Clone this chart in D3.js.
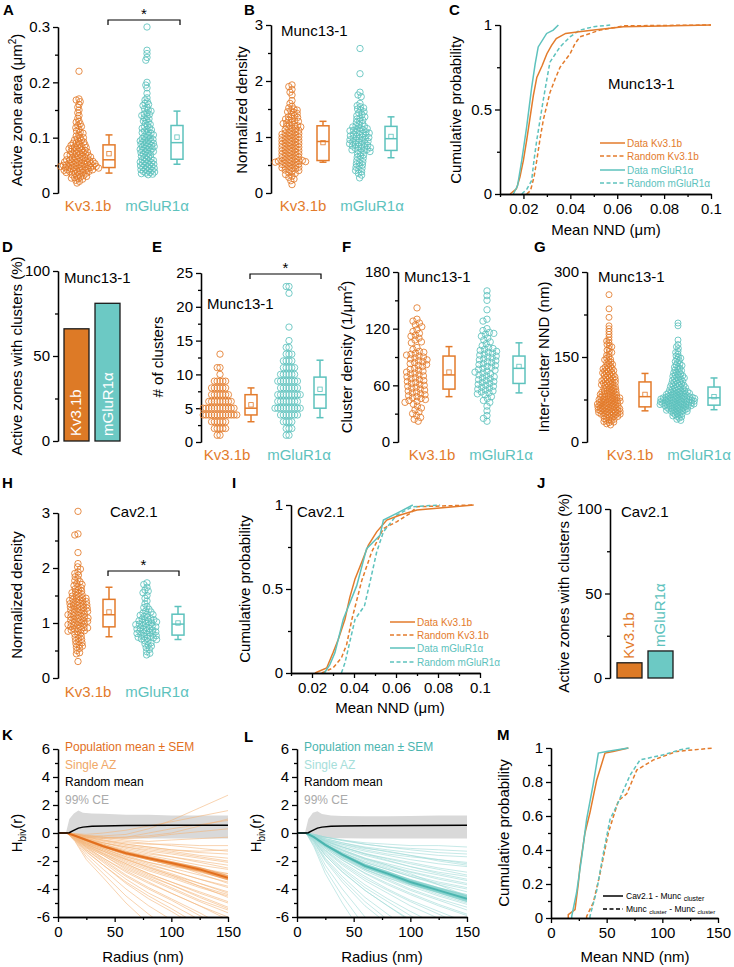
<!DOCTYPE html>
<html><head><meta charset="utf-8">
<script src="https://cdn.jsdelivr.net/npm/d3@7"></script>
<style>body{margin:0;background:#fff}svg{display:block}</style>
</head><body><script>
// ---------------- DATA ----------------
const groups = ["Kv3.1b", "mGluR1α"];
// A: active zone area (µm²)
const aKv = [0.22,0.17,0.168,0.165,0.16,0.155,0.15,0.145,0.14,0.135,0.13,0.128,0.125,0.122,0.12,0.118,0.115,0.112,0.11,0.108,0.105,0.103,0.1,0.1,0.098,0.096,0.095,0.093,0.092,0.09,0.09,0.088,0.087,0.086,0.085,0.084,0.083,0.082,0.081,0.08,0.08,0.079,0.078,0.077,0.076,0.075,0.075,0.074,0.073,0.072,0.071,0.07,0.07,0.069,0.068,0.068,0.067,0.066,0.065,0.065,0.064,0.063,0.063,0.062,0.061,0.06,0.06,0.06,0.059,0.058,0.058,0.057,0.057,0.056,0.056,0.055,0.055,0.054,0.054,0.053,0.053,0.052,0.052,0.051,0.051,0.05,0.05,0.05,0.049,0.049,0.048,0.048,0.048,0.047,0.047,0.046,0.046,0.046,0.045,0.045,0.044,0.044,0.043,0.043,0.042,0.042,0.041,0.041,0.04,0.04,0.039,0.039,0.038,0.037,0.037,0.036,0.035,0.034,0.033,0.032,0.031,0.03,0.029,0.028,0.027,0.026,0.025,0.023,0.021,0.018];
const aMg = [0.3,0.258,0.252,0.245,0.24,0.2,0.195,0.19,0.18,0.172,0.168,0.165,0.162,0.16,0.158,0.155,0.152,0.15,0.148,0.145,0.143,0.142,0.14,0.138,0.136,0.134,0.132,0.13,0.128,0.126,0.124,0.122,0.12,0.118,0.117,0.115,0.114,0.112,0.11,0.109,0.108,0.106,0.105,0.104,0.102,0.1,0.099,0.098,0.097,0.096,0.095,0.094,0.093,0.092,0.091,0.09,0.089,0.088,0.087,0.086,0.085,0.084,0.083,0.082,0.081,0.08,0.079,0.078,0.077,0.076,0.075,0.074,0.073,0.072,0.07,0.069,0.068,0.066,0.065,0.064,0.062,0.061,0.06,0.059,0.058,0.057,0.056,0.055,0.054,0.053,0.052,0.051,0.05,0.049,0.048,0.047,0.046,0.045,0.044,0.043,0.042,0.041,0.04,0.039,0.038,0.037,0.036,0.035,0.034,0.033];
const aBoxKv = [0.036,0.046,0.06,0.087,0.105,0.071];   // lo, q1, median, q3, hi, mean
const aBoxMg = [0.052,0.061,0.091,0.122,0.148,0.101];
// B: normalized density Munc13-1
const bKv = [1.93,1.9,1.85,1.8,1.75,1.65,1.6,1.55,1.52,1.5,1.48,1.47,1.45,1.44,1.42,1.4,1.38,1.36,1.35,1.33,1.32,1.3,1.29,1.28,1.26,1.25,1.24,1.22,1.21,1.2,1.19,1.18,1.16,1.15,1.14,1.13,1.12,1.1,1.09,1.08,1.07,1.06,1.05,1.04,1.03,1.02,1.01,1.0,0.99,0.98,0.97,0.96,0.95,0.94,0.93,0.92,0.91,0.9,0.89,0.88,0.87,0.86,0.85,0.84,0.83,0.82,0.81,0.8,0.79,0.78,0.77,0.76,0.75,0.74,0.73,0.72,0.71,0.7,0.69,0.68,0.67,0.66,0.65,0.64,0.63,0.62,0.61,0.6,0.59,0.58,0.58,0.57,0.57,0.56,0.56,0.55,0.55,0.54,0.53,0.52,0.51,0.5,0.49,0.48,0.47,0.46,0.45,0.44,0.43,0.42,0.41,0.4,0.38,0.36,0.35,0.33,0.3,0.28,0.25,0.22,0.15];
const bMg = [2.58,2.13,1.8,1.75,1.72,1.6,1.56,1.54,1.52,1.5,1.48,1.45,1.43,1.4,1.38,1.36,1.34,1.32,1.3,1.28,1.26,1.24,1.22,1.2,1.19,1.18,1.16,1.15,1.14,1.13,1.12,1.11,1.1,1.09,1.08,1.07,1.06,1.05,1.04,1.03,1.02,1.01,1.0,0.99,0.98,0.97,0.96,0.95,0.94,0.93,0.92,0.91,0.9,0.89,0.88,0.87,0.86,0.85,0.84,0.83,0.82,0.81,0.8,0.79,0.78,0.77,0.76,0.75,0.74,0.72,0.7,0.68,0.66,0.64,0.62,0.6,0.58,0.56,0.54,0.52,0.5,0.48,0.46,0.44,0.42,0.4,0.38,0.35,0.32,0.27];
const bBoxKv = [0.55,0.58,0.92,1.2,1.28,0.9];
const bBoxMg = [0.63,0.76,0.97,1.19,1.36,1.01];
// C: cumulative mean NND Munc13-1 [µm, prob]
const cDataKv = [[0.0143,0],[0.017,0.03],[0.0185,0.1],[0.020,0.2],[0.0214,0.32],[0.0228,0.45],[0.0242,0.58],[0.0257,0.69],[0.028,0.76],[0.030,0.83],[0.032,0.88],[0.034,0.92],[0.038,0.95],[0.0437,0.96],[0.05,0.97],[0.0627,0.99],[0.1,1]];
const cRandKv = [[0.0214,0],[0.023,0.02],[0.0245,0.1],[0.0257,0.2],[0.027,0.32],[0.0285,0.44],[0.0313,0.6],[0.0335,0.68],[0.0356,0.75],[0.0399,0.83],[0.042,0.89],[0.0441,0.93],[0.0527,0.97],[0.063,0.995],[0.1,1]];
const cDataMg = [[0.0157,0],[0.0175,0.05],[0.0193,0.2],[0.0214,0.4],[0.0225,0.52],[0.0235,0.63],[0.025,0.77],[0.0263,0.87],[0.0299,0.95],[0.0327,0.97],[0.0349,1]];
const cRandMg = [[0.0193,0],[0.0215,0.03],[0.0235,0.08],[0.0245,0.2],[0.0257,0.32],[0.0285,0.56],[0.030,0.68],[0.0313,0.78],[0.0356,0.87],[0.0399,0.93],[0.0441,0.97],[0.05,0.99],[0.057,1]];
// D, J: % active zones with clusters
const dPct = [66, 81];
const jPct = [9, 16];
// E: # of clusters
const eKv = [13,11,11,10,9,9,9,9,9,8,8,8,8,8,8,7,7,7,7,7,7,7,6,6,6,6,6,6,6,6,6,5,5,5,5,5,5,5,5,5,5,5,5,4,4,4,4,4,4,4,4,4,4,4,4,4,3,3,3,3,3,3,2,2,2,2,2,1,1];
const eMg = [23,23,22,17,15,14,14,13,13,13,12,12,12,12,11,11,11,11,11,10,10,10,10,10,10,9,9,9,9,9,9,9,9,8,8,8,8,8,8,8,7,7,7,7,7,7,7,7,7,6,6,6,6,6,6,6,6,5,5,5,5,5,5,5,5,5,5,4,4,4,4,4,4,4,3,3,3,3,2,2,2,1,1];
const eBoxKv = [3,4,5,7,8,5.5];
const eBoxMg = [3.6,5,7,9.6,12.1,7.8];
// F: cluster density (1/µm²)
const fKv = [142,130,128,126,124,122,119,117,115,113,112,110,108,106,105,100,98,96,95,94,93,92,91,90,89,88,87,86,85,84,83,82,81,80,78,77,76,75,74,73,72,71,70,69,68,67,66,65,64,63,62,61,60,59,58,57,56,55,54,53,52,51,50,49,48,47,46,45,44,43,42,40,38,36,34,32,30,28,26,24,22];
const fMg = [160,155,150,140,130,128,120,118,116,115,114,112,110,108,106,104,102,100,99,98,97,96,95,94,93,92,91,90,89,88,87,86,85,84,83,82,81,80,79,78,77,76,75,74,73,72,71,70,69,68,67,66,65,64,63,62,61,60,59,58,57,56,55,54,53,52,51,50,48,46,44,42,38,33,28,25,22];
const fBoxKv = [48,56,71,91,101,74];
const fBoxMg = [52,62,78,91,105,80];
// G: inter-cluster NND (nm)
const gKv = [260,235,220,205,200,195,190,185,180,178,175,172,170,168,165,162,160,158,155,153,150,148,146,145,143,141,140,138,137,135,134,132,131,130,129,128,127,126,125,124,123,122,121,120,119,118,117,116,115,114,113,112,111,110,110,109,108,107,106,105,105,104,103,102,101,100,100,99,98,97,96,95,95,94,93,92,91,90,90,89,88,88,87,86,85,85,84,84,83,82,82,81,80,80,79,79,78,78,77,76,76,75,75,74,74,73,73,72,72,71,71,70,70,69,69,68,68,67,67,66,66,65,65,64,64,63,63,62,62,61,61,60,60,59,59,58,58,57,57,56,56,55,55,54,54,53,53,52,52,51,51,50,50,49,49,48,48,47,46,45,45,44,43,42,41,40,39,38,37,36,35,34,32,30];
const gMg = [210,205,180,172,168,165,160,158,155,152,150,148,146,144,142,140,138,136,135,133,132,130,128,127,126,124,123,122,120,119,118,117,116,115,114,113,112,111,110,109,108,107,106,105,104,103,102,101,100,100,99,98,97,96,96,95,94,93,93,92,91,90,90,89,89,88,88,87,87,86,86,85,85,84,84,83,83,82,82,81,81,80,80,80,79,79,79,78,78,78,77,77,77,76,76,76,75,75,75,74,74,74,73,73,73,72,72,72,71,71,71,70,70,70,69,69,69,68,68,68,67,67,67,66,66,66,65,65,65,64,64,64,63,63,62,62,61,61,60,60,59,59,58,58,57,57,56,56,55,55,54,54,53,52,51,50,49,48,47,46,45,44,42,40,38];
const gBoxKv = [55,62,80,106,121,84];
const gBoxMg = [57,65,78,97,113,80];
// H: normalized density Cav2.1
const hKv = [3.03,2.62,2.6,2.28,2.08,2.02,1.98,1.93,1.9,1.87,1.84,1.8,1.77,1.75,1.72,1.7,1.68,1.66,1.64,1.62,1.6,1.58,1.56,1.55,1.54,1.52,1.5,1.49,1.48,1.46,1.45,1.44,1.43,1.42,1.41,1.4,1.39,1.38,1.37,1.36,1.35,1.34,1.33,1.32,1.31,1.3,1.29,1.28,1.27,1.26,1.25,1.24,1.23,1.22,1.21,1.2,1.19,1.18,1.17,1.16,1.15,1.14,1.13,1.12,1.11,1.1,1.09,1.08,1.07,1.06,1.05,1.04,1.03,1.02,1.01,1.0,0.99,0.98,0.97,0.96,0.95,0.94,0.93,0.92,0.91,0.9,0.89,0.88,0.87,0.86,0.85,0.84,0.82,0.8,0.78,0.76,0.74,0.72,0.7,0.68,0.66,0.64,0.62,0.6,0.58,0.56,0.54,0.5,0.46,0.44,0.3];
const hMg = [1.73,1.7,1.65,1.6,1.58,1.55,1.5,1.45,1.4,1.35,1.3,1.28,1.25,1.22,1.2,1.18,1.16,1.15,1.14,1.12,1.1,1.08,1.07,1.06,1.05,1.04,1.03,1.02,1.01,1.0,0.99,0.98,0.97,0.96,0.95,0.94,0.93,0.92,0.91,0.9,0.89,0.88,0.87,0.86,0.85,0.84,0.83,0.82,0.81,0.8,0.79,0.78,0.77,0.76,0.75,0.74,0.73,0.72,0.71,0.7,0.68,0.66,0.64,0.62,0.6,0.58,0.55,0.52,0.48,0.45,0.42];
const hBoxKv = [0.75,0.93,1.15,1.43,1.65,1.2];
const hBoxMg = [0.7,0.78,0.98,1.16,1.3,1.0];
// I: cumulative mean NND Cav2.1 [µm, prob]
const iDataKv = [[0.0214,0],[0.027,0.03],[0.030,0.12],[0.0325,0.2],[0.0357,0.32],[0.038,0.45],[0.0405,0.56],[0.044,0.67],[0.0468,0.76],[0.0508,0.84],[0.0556,0.91],[0.062,0.94],[0.07,0.97],[0.097,1]];
const iRandKv = [[0.0246,0],[0.030,0.03],[0.034,0.09],[0.0365,0.17],[0.039,0.32],[0.0437,0.55],[0.0484,0.72],[0.054,0.86],[0.0603,0.9],[0.0667,0.95],[0.07,0.99],[0.097,1]];
const iDataMg = [[0.0259,0],[0.0285,0.05],[0.0309,0.12],[0.0349,0.32],[0.0413,0.52],[0.046,0.74],[0.0524,0.82],[0.054,0.91],[0.0603,0.95],[0.068,1]];
const iRandMg = [[0.034,0],[0.0357,0.06],[0.0405,0.32],[0.045,0.4],[0.0476,0.54],[0.0508,0.72],[0.054,0.84],[0.0603,0.94],[0.068,0.99],[0.081,1]];
// K, L: H_biv(r)
const radii = [0,8,15,25,40,60,80,100,125,150];
const kSingle = [
[0,0,-0.1,-0.2,-0.2,-0.1,0.3,0.9,1.8,2.7],[0,0,-0.05,-0.1,0,0.2,0.5,0.8,1.2,1.6],[0,0,-0.1,-0.3,-0.4,-0.3,0,0.3,0.6,0.9],
[0,0,-0.1,-0.2,-0.3,-0.4,-0.3,-0.1,0.1,0.3],[0,0,-0.05,-0.2,-0.3,-0.5,-0.6,-0.5,-0.4,-0.3],[0,0,-0.1,-0.3,-0.5,-0.7,-0.8,-0.8,-0.9,-0.9],
[0,0,-0.1,-0.3,-0.5,-0.8,-1.0,-1.2,-1.4,-1.5],[0,0,-0.15,-0.4,-0.6,-0.9,-1.1,-1.3,-1.6,-1.8],[0,0,-0.1,-0.4,-0.7,-1.0,-1.3,-1.5,-1.8,-2.1],
[0,0,-0.15,-0.45,-0.8,-1.2,-1.5,-1.7,-2.0,-2.3],[0,0,-0.2,-0.5,-0.8,-1.3,-1.6,-1.9,-2.3,-2.6],[0,0,-0.2,-0.5,-0.9,-1.4,-1.8,-2.1,-2.5,-2.9],
[0,0,-0.2,-0.6,-1.0,-1.5,-1.9,-2.3,-2.7,-3.2],[0,0,-0.2,-0.6,-1.0,-1.6,-2.1,-2.5,-3.0,-3.5],[0,0,-0.25,-0.7,-1.1,-1.8,-2.3,-2.7,-3.3,-3.8],
[0,0,-0.25,-0.7,-1.2,-1.9,-2.5,-3.0,-3.6,-4.2],[0,0,-0.3,-0.8,-1.3,-2.1,-2.7,-3.2,-3.9,-4.5],[0,0,-0.3,-0.8,-1.4,-2.2,-2.9,-3.5,-4.2,-4.9],
[0,0,-0.3,-0.9,-1.5,-2.4,-3.1,-3.7,-4.5,-5.3],[0,0,-0.35,-1.0,-1.6,-2.6,-3.3,-4.0,-4.9,-5.7],[0,0,-0.35,-1.0,-1.8,-2.8,-3.6,-4.3,-5.2,-6.2],
[0,0,-0.4,-1.1,-1.9,-3.0,-3.9,-4.7,-5.7,-6.8],[0,0,-0.4,-1.2,-2.1,-3.3,-4.3,-5.1,-6.2,-7.4],[0,0,-0.45,-1.3,-2.3,-3.6,-4.7,-5.6,-6.8,-8.0],
[0,0,-0.5,-1.5,-2.6,-4.0,-5.2,-6.2,-7.5,-9.0],[0,0,-0.55,-1.7,-2.9,-4.5,-5.8,-7.0,-8.5,-10],[0,0,-0.6,-1.9,-3.2,-5.0,-6.5,-7.8,-9.4,-11],
[0,0,-0.2,-0.5,-0.7,-1.0,-1.2,-1.4,-1.7,-2.0],[0,0,-0.2,-0.6,-1.1,-1.7,-2.1,-2.4,-2.7,-2.9],[0,0,-0.3,-0.8,-1.3,-1.9,-2.4,-2.9,-3.6,-4.3],
[0,0,-0.15,-0.4,-0.7,-1.1,-1.4,-1.7,-2.1,-2.5],[0,0,-0.2,-0.55,-0.9,-1.4,-1.9,-2.3,-2.8,-3.3],[0,0,-0.25,-0.65,-1.1,-1.7,-2.2,-2.7,-3.3,-3.9],
[0,0,-0.3,-0.75,-1.3,-2.0,-2.6,-3.1,-3.8,-4.4],[0,0,-0.3,-0.85,-1.45,-2.2,-2.9,-3.5,-4.3,-5.0],[0,0,-0.35,-0.95,-1.6,-2.5,-3.2,-3.9,-4.8,-5.5],
[0,0,-0.4,-1.05,-1.8,-2.7,-3.5,-4.3,-5.2,-6.0],[0,0,-0.45,-1.2,-2.0,-3.1,-4.0,-4.8,-5.9,-6.9],[0,0,-0.5,-1.35,-2.3,-3.5,-4.5,-5.4,-6.6,-7.7],
[0,0,-0.1,-0.25,-0.4,-0.6,-0.75,-0.9,-1.1,-1.3],[0,0,-0.15,-0.35,-0.55,-0.8,-1.0,-1.2,-1.3,-1.2],[0,0,-0.2,-0.5,-0.85,-1.3,-1.75,-2.2,-2.9,-3.6],
[0,0,-0.25,-0.7,-1.2,-1.85,-2.45,-3.0,-3.8,-4.6],[0,0,-0.35,-0.9,-1.5,-2.3,-3.0,-3.7,-4.6,-5.4],[0,0,-0.1,-0.2,-0.3,-0.3,-0.2,0,0.5,1.0]];
const kMean = [0,0,-0.2,-0.5,-0.95,-1.45,-1.8,-2.15,-2.6,-3.2];
const kSem  = [0,0,0.05,0.08,0.1,0.12,0.14,0.15,0.17,0.2];
const lSingle = [
[0,0,-0.1,-0.3,-0.5,-0.7,-0.8,-0.9,-0.9,-1.0],[0,0,-0.1,-0.3,-0.5,-0.8,-1.0,-1.1,-1.2,-1.3],[0,0,-0.15,-0.4,-0.7,-1.0,-1.2,-1.4,-1.6,-1.7],
[0,0,-0.15,-0.45,-0.8,-1.2,-1.5,-1.7,-1.9,-2.1],[0,0,-0.2,-0.5,-0.9,-1.3,-1.6,-1.9,-2.2,-2.4],[0,0,-0.2,-0.55,-1.0,-1.5,-1.8,-2.1,-2.5,-2.8],
[0,0,-0.2,-0.6,-1.1,-1.6,-2.0,-2.4,-2.8,-3.1],[0,0,-0.25,-0.65,-1.2,-1.8,-2.2,-2.6,-3.0,-3.4],[0,0,-0.25,-0.7,-1.3,-1.9,-2.4,-2.8,-3.3,-3.7],
[0,0,-0.3,-0.75,-1.4,-2.1,-2.6,-3.1,-3.6,-4.0],[0,0,-0.3,-0.8,-1.5,-2.2,-2.8,-3.3,-3.9,-4.4],[0,0,-0.3,-0.85,-1.6,-2.4,-3.0,-3.6,-4.2,-4.8],
[0,0,-0.35,-0.9,-1.7,-2.6,-3.2,-3.8,-4.5,-5.1],[0,0,-0.35,-1.0,-1.8,-2.7,-3.4,-4.1,-4.8,-5.5],[0,0,-0.4,-1.1,-1.9,-2.9,-3.7,-4.4,-5.2,-5.9],
[0,0,-0.4,-1.2,-2.1,-3.1,-4.0,-4.8,-5.6,-6.4],[0,0,-0.45,-1.3,-2.3,-3.4,-4.3,-5.2,-6.1,-7.0],[0,0,-0.5,-1.4,-2.5,-3.7,-4.7,-5.6,-6.6,-7.6],
[0,0,-0.55,-1.6,-2.8,-4.1,-5.2,-6.2,-7.3,-8.4],[0,0,-0.6,-1.8,-3.1,-4.6,-5.8,-6.9,-8.1,-9.3],[0,0,-0.7,-2.0,-3.5,-5.2,-6.5,-7.7,-9.0,-10.3],
[0,0,-0.8,-2.3,-4.0,-6.0,-7.5,-8.9,-10.4,-12],[0,0,-0.9,-2.6,-4.5,-6.7,-8.4,-10,-11.7,-13.5],[0,0,-1.0,-2.9,-5.0,-7.5,-9.3,-11,-13,-15],
[0,0,-0.2,-0.5,-0.8,-1.1,-1.3,-1.6,-2.0,-2.3],[0,0,-0.3,-0.9,-1.4,-2.0,-2.5,-3.0,-3.5,-3.9],[0,0,-0.4,-1.0,-1.8,-2.6,-3.2,-3.7,-4.2,-4.6],
[0,0,-0.25,-0.7,-1.2,-1.8,-2.3,-2.9,-3.7,-4.5],
[0,0,-0.15,-0.4,-0.7,-1.05,-1.35,-1.6,-1.9,-2.2],[0,0,-0.2,-0.55,-1.0,-1.45,-1.85,-2.2,-2.6,-3.0],[0,0,-0.25,-0.7,-1.25,-1.85,-2.3,-2.75,-3.2,-3.6],
[0,0,-0.3,-0.8,-1.4,-2.1,-2.6,-3.1,-3.7,-4.2],[0,0,-0.35,-0.95,-1.7,-2.5,-3.1,-3.7,-4.4,-5.0],[0,0,-0.4,-1.1,-1.95,-2.85,-3.6,-4.3,-5.1,-5.8],
[0,0,-0.45,-1.25,-2.2,-3.25,-4.1,-4.9,-5.8,-6.7],[0,0,-0.5,-1.5,-2.6,-3.9,-4.9,-5.9,-7.0,-8.0],[0,0,-0.65,-1.9,-3.3,-4.9,-6.2,-7.3,-8.6,-9.9],
[0,0,-0.1,-0.3,-0.55,-0.8,-1.0,-1.2,-1.4,-1.5],[0,0,-0.25,-0.6,-1.0,-1.5,-1.95,-2.4,-2.9,-3.3],[0,0,-0.3,-0.85,-1.5,-2.3,-2.9,-3.4,-4.0,-4.4],
[0,0,-0.35,-1.0,-1.75,-2.6,-3.3,-4.0,-4.7,-5.3],[0,0,-0.55,-1.6,-2.75,-4.1,-5.2,-6.3,-7.4,-8.6]];
const lMean = [0,0,-0.3,-0.85,-1.55,-2.35,-2.9,-3.5,-4.1,-4.7];
const lSem  = [0,0,0.06,0.1,0.13,0.16,0.18,0.2,0.22,0.25];
const ceRadii = [0,7,10,14,18,22,30,40,60,80,100,125,150];
const kCeHi = [0,0,1.0,1.4,1.6,1.45,1.4,1.38,1.3,1.3,1.25,1.25,1.25];
const kCeLo = [0,0,-0.1,-0.2,-0.3,-0.3,-0.35,-0.4,-0.4,-0.4,-0.4,-0.4,-0.4];
const lCeHi = [0,0,1.0,1.45,1.55,1.35,1.25,1.22,1.2,1.2,1.22,1.25,1.25];
const lCeLo = [0,0,-0.1,-0.2,-0.3,-0.32,-0.35,-0.38,-0.4,-0.4,-0.4,-0.4,-0.4];
const randRadii = [0,8,10,13,18,22,30,40,60,100,150];
const kRand = [0,0,0.02,0.15,0.35,0.42,0.48,0.5,0.53,0.55,0.55];
const lRand = [0,0,0.02,0.15,0.35,0.42,0.48,0.5,0.52,0.53,0.55];
// M: cumulative mean NND (nm)
const mCavKv = [[15.5,0],[15.5,0.02],[21.6,0.05],[24.5,0.2],[26,0.3],[30.5,0.5],[35,0.62],[41,0.81],[48.5,0.97],[55.7,0.98],[69.5,1]];
const mCavMg = [[18.6,0],[18.6,0.01],[23,0.15],[27.6,0.36],[32,0.58],[38,0.79],[42.5,0.97],[50,0.98],[69.5,1]];
const mMuncKv = [[32,0],[32,0.01],[38,0.09],[44,0.26],[51.5,0.5],[60.5,0.69],[68,0.73],[77,0.87],[92,0.93],[113,0.98],[146,1]];
const mMuncMg = [[35,0],[35,0.01],[41,0.16],[47,0.38],[53,0.58],[59,0.66],[71,0.84],[80,0.93],[101,0.96],[116,0.99],[125,1]];

// ---------------- DRAWING ----------------
const OR = "#E37B2B", TE = "#5DC2BD", ORbar = "#DD7A26", TEbar = "#6CC9C4";
const FONT = '"Liberation Sans", Arial, Helvetica, sans-serif';
const svg = d3.select("body").append("svg").attr("width", 734).attr("height", 967);

function txt(x, y, s, o = {}) {
  const t = svg.append("text").attr("x", x).attr("y", y).text(s)
    .attr("font-family", FONT).attr("font-size", o.size || 15).attr("fill", o.fill || "#000")
    .attr("text-anchor", o.anchor || "start");
  if (o.bold) t.attr("font-weight", "bold");
  if (o.rot) t.attr("transform", `rotate(-90,${x},${y})`);
  return t;
}
function styleAxis(g) {
  g.selectAll("path,line").attr("stroke", "#000").attr("stroke-width", 1.3);
  g.selectAll("text").attr("font-size", 15).attr("font-family", FONT).attr("fill", "#000");
}
function yAxis(scale, x, major, minor, fmt) {
  const g1 = svg.append("g").attr("transform", `translate(${x},0)`)
    .call(d3.axisLeft(scale).tickValues(minor).tickSize(3).tickFormat("").tickSizeOuter(0));
  styleAxis(g1);
  const g2 = svg.append("g").attr("transform", `translate(${x},0)`)
    .call(d3.axisLeft(scale).tickValues(major).tickSize(5).tickPadding(3).tickFormat(fmt || (d => d)).tickSizeOuter(0));
  styleAxis(g2);
}
function xAxis(scale, y, major, minor, fmt) {
  const g1 = svg.append("g").attr("transform", `translate(0,${y})`)
    .call(d3.axisBottom(scale).tickValues(minor).tickSize(3).tickFormat("").tickSizeOuter(0));
  styleAxis(g1);
  const g2 = svg.append("g").attr("transform", `translate(0,${y})`)
    .call(d3.axisBottom(scale).tickValues(major).tickSize(5).tickPadding(4).tickFormat(fmt || (d => d)).tickSizeOuter(0));
  styleAxis(g2);
}
function swarm(vals, y, cx, sep) {
  const pts = vals.map(v => ({ v, y: y(v) })).sort((a, b) => a.y - b.y);
  const placed = [];
  pts.forEach(p => {
    let x = cx;
    for (let k = 0; k < 800; k++) {
      const xx = cx + (k % 2 ? -1 : 1) * Math.ceil(k / 2) * 0.4;
      let ok = true;
      for (const q of placed) {
        const dy = q.y - p.y;
        if (Math.abs(dy) < sep) { const dx = q.x - xx; if (dx * dx + dy * dy < sep * sep) { ok = false; break; } }
      }
      if (ok) { x = xx; break; }
    }
    p.x = x; placed.push(p);
  });
  return pts;
}
function dots(vals, y, cx, sep, color, r) {
  svg.append("g").selectAll("circle").data(swarm(vals, y, cx, sep)).join("circle")
    .attr("cx", d => d.x).attr("cy", d => d.y).attr("r", r || 3.2)
    .attr("fill", "none").attr("stroke", color).attr("stroke-width", 0.85);
}
function box(y, cx, st, color) {
  const [lo, q1, md, q3, hi, mn] = st, w = 12, c = 7;
  const g = svg.append("g").attr("stroke", color).attr("stroke-width", 1.5).attr("fill", "none");
  g.append("line").attr("x1", cx).attr("x2", cx).attr("y1", y(hi)).attr("y2", y(q3));
  g.append("line").attr("x1", cx).attr("x2", cx).attr("y1", y(q1)).attr("y2", y(lo));
  g.append("line").attr("x1", cx - c / 2).attr("x2", cx + c / 2).attr("y1", y(hi)).attr("y2", y(hi));
  g.append("line").attr("x1", cx - c / 2).attr("x2", cx + c / 2).attr("y1", y(lo)).attr("y2", y(lo));
  g.append("rect").attr("x", cx - w / 2).attr("width", w).attr("y", y(q3)).attr("height", y(q1) - y(q3));
  g.append("line").attr("x1", cx - w / 2).attr("x2", cx + w / 2).attr("y1", y(md)).attr("y2", y(md));
  g.append("rect").attr("x", cx - 2.2).attr("y", y(mn) - 2.2).attr("width", 4.4).attr("height", 4.4).attr("stroke-width", 0.8);
}
function bracket(x1, x2, y) {
  svg.append("path").attr("d", `M${x1},${y + 5}V${y}H${x2}V${y + 5}`).attr("fill", "none").attr("stroke", "#000").attr("stroke-width", 1.2);
  txt((x1 + x2) / 2, y - 1, "*", { anchor: "middle", size: 15 });
}
function catLabels(xs, y) {
  txt(xs[0], y, groups[0], { anchor: "middle", fill: OR });
  txt(xs[1], y, groups[1], { anchor: "middle", fill: TE });
}
function scatterPanel(p) {
  const y = d3.scaleLinear().domain(p.dom).range(p.rng);
  yAxis(y, p.ax, p.major, p.minor, p.fmt);
  const sx = d3.scalePoint().domain(groups).range(p.sx);
  dots(p.kv, y, sx(groups[0]), p.sep, OR, p.r);
  dots(p.mg, y, sx(groups[1]), p.sep, TE, p.r);
  box(y, sx(groups[0]) + p.boff, p.bkv, OR);
  box(y, sx(groups[1]) + p.boff, p.bmg, TE);
  catLabels(p.lab, p.labY);
  return y;
}
const rng = (a, b, s) => d3.range(a, b + s / 2, s);
const minorOf = (a, b, s) => rng(a, b, s).filter((v, i) => i % 2 === 1);

// ---- A ----
scatterPanel({ dom: [0, 0.3], rng: [193, 27], ax: 58, major: [0, 0.1, 0.2, 0.3], minor: minorOf(0, 0.3, 0.05),
  kv: aKv, mg: aMg, sx: [79, 147], boff: 30, bkv: aBoxKv, bmg: aBoxMg, sep: 2.9, lab: [88, 157], labY: 211 });
bracket(108, 180, 20);
svg.append("text").attr("transform", "translate(22,110) rotate(-90)").attr("text-anchor", "middle")
  .attr("font-family", FONT).attr("font-size", 15)
  .call(t => { t.append("tspan").text("Active zone area (μm"); t.append("tspan").text("2").attr("font-size", 10).attr("dy", -6); t.append("tspan").text(")").attr("dy", 6); });

// ---- B ----
scatterPanel({ dom: [0, 3], rng: [193, 25], ax: 271, major: [0, 1, 2, 3], minor: [0.5, 1.5, 2.5],
  kv: bKv, mg: bMg, sx: [292, 360], boff: 31, bkv: bBoxKv, bmg: bBoxMg, sep: 3.3, lab: [303, 372], labY: 211 });
txt(281, 36, "Munc13-1");
txt(247, 110, "Normalized density", { anchor: "middle", rot: true });

// ---- cumulative helper ----
function cumPanel(p) {
  const x = d3.scaleLinear().domain(p.xd).range(p.xr);
  const y = d3.scaleLinear().domain([0, 1]).range(p.yr);
  const line = d3.line().x(d => x(d[0])).y(d => y(d[1]));
  p.series.forEach(s => svg.append("path").attr("d", line(s.d)).attr("fill", "none").attr("stroke", s.c)
    .attr("stroke-width", 1.5).attr("stroke-dasharray", s.dash ? "4,2.5" : null));
  yAxis(y, p.xr[0], p.ymaj, p.ymin, p.yfmt);
  xAxis(x, p.yr[0], p.xmaj, p.xmin, p.xfmt);
  return { x, y };
}
const nndFmt = d => d === 0.1 ? "0.1" : d.toFixed(2);
const pFmt = d => d === 0 ? "0" : d === 1 ? "1" : String(d);

// ---- C ----
cumPanel({ xd: [0.01, 0.1], xr: [500, 711], yr: [194, 25],
  series: [{ d: cRandKv, c: OR, dash: 1 }, { d: cRandMg, c: TE, dash: 1 }, { d: cDataKv, c: OR }, { d: cDataMg, c: TE }],
  ymaj: [0, 0.5, 1], ymin: [0.25, 0.75], yfmt: pFmt, xmaj: [0.02, 0.04, 0.06, 0.08, 0.1], xmin: [0.01, 0.03, 0.05, 0.07, 0.09], xfmt: nndFmt });
txt(608, 89, "Munc13-1");
txt(606, 235, "Mean NND (μm)", { anchor: "middle" });
txt(461, 110, "Cumulative probability", { anchor: "middle", rot: true });
function cumLegend(x, ys, size) {
  const items = [["Data Kv3.1b", OR, 0], ["Random Kv3.1b", OR, 1], ["Data mGluR1α", TE, 0], ["Random mGluR1α", TE, 1]];
  items.forEach((it, i) => {
    svg.append("line").attr("x1", x).attr("x2", x + 25).attr("y1", ys[i]).attr("y2", ys[i]).attr("stroke", it[1])
      .attr("stroke-width", 1.5).attr("stroke-dasharray", it[2] ? "4,2.5" : null);
    txt(x + 27, ys[i] + 3.5, it[0], { size: size, fill: it[1] });
  });
}
cumLegend(600, [143, 156, 170, 183], 10);

// ---- D ----
function barPanel(p) {
  const y = d3.scaleLinear().domain([0, 100]).range(p.yr);
  const x = d3.scaleBand().domain(groups).range(p.xr).paddingInner(0.194).paddingOuter(0);
  svg.append("g").selectAll("rect").data(p.vals).join("rect")
    .attr("x", (d, i) => x(groups[i])).attr("width", x.bandwidth())
    .attr("y", d => y(d)).attr("height", d => y(0) - y(d))
    .attr("fill", (d, i) => i ? TEbar : ORbar).attr("stroke", "#1a1a1a").attr("stroke-width", 1.3);
  yAxis(y, p.ax, [0, 50, 100], [25, 75]);
  return { x, y };
}
const D = barPanel({ vals: dPct, yr: [441, 271], xr: [64, 120], ax: 58 });
groups.forEach((g, i) => txt(D.x(g) + D.x.bandwidth() / 2 + 5, 436, g, { rot: true, fill: "#fff" }));
txt(64, 283, "Munc13-1");
txt(22, 356, "Active zones with clusters (%)", { anchor: "middle", rot: true });

// ---- E ----
scatterPanel({ dom: [0, 25], rng: [442, 273], ax: 201, major: [0, 5, 10, 15, 20, 25], minor: [2.5, 7.5, 12.5, 17.5, 22.5],
  kv: eKv, mg: eMg, sx: [220, 289], boff: 31, bkv: eBoxKv, bmg: eBoxMg, sep: 2.5, lab: [227, 299], labY: 460 });
bracket(250, 321, 274);
txt(207, 309, "Munc13-1");
txt(163, 357, "# of clusters", { anchor: "middle", rot: true });

// ---- F ----
scatterPanel({ dom: [0, 180], rng: [442, 272], ax: 398, major: [0, 60, 120, 180], minor: [30, 90, 150],
  kv: fKv, mg: fMg, sx: [417, 487], boff: 32, bkv: fBoxKv, bmg: fBoxMg, sep: 4.3, lab: [432, 501], labY: 460 });
txt(404, 282, "Munc13-1");
svg.append("text").attr("transform", "translate(352,357) rotate(-90)").attr("text-anchor", "middle")
  .attr("font-family", FONT).attr("font-size", 15)
  .call(t => { t.append("tspan").text("Cluster density (1/μm"); t.append("tspan").text("2").attr("font-size", 10).attr("dy", -6); t.append("tspan").text(")").attr("dy", 6); });

// ---- G ----
scatterPanel({ dom: [0, 300], rng: [442, 272], ax: 587, major: [0, 150, 300], minor: [75, 225],
  kv: gKv, mg: gMg, sx: [609, 678], boff: 36, bkv: gBoxKv, bmg: gBoxMg, sep: 2.6, r: 3, lab: [630, 699], labY: 460 });
txt(598, 282, "Munc13-1");
txt(549, 357, "Inter-cluster NND (nm)", { anchor: "middle", rot: true });

// ---- H ----
scatterPanel({ dom: [0, 3], rng: [678, 513], ax: 58, major: [0, 1, 2, 3], minor: [0.5, 1.5, 2.5],
  kv: hKv, mg: hMg, sx: [78, 147], boff: 31, bkv: hBoxKv, bmg: hBoxMg, sep: 3.3, lab: [88, 157], labY: 697 });
bracket(108, 179, 571);
txt(110, 517, "Cav2.1");
txt(22, 595, "Normalized density", { anchor: "middle", rot: true });

// ---- I ----
cumPanel({ xd: [0.01, 0.1], xr: [291, 480], yr: [673, 505],
  series: [{ d: iRandKv, c: OR, dash: 1 }, { d: iRandMg, c: TE, dash: 1 }, { d: iDataKv, c: OR }, { d: iDataMg, c: TE }],
  ymaj: [0, 0.5, 1], ymin: [0.25, 0.75], yfmt: pFmt, xmaj: [0.02, 0.04, 0.06, 0.08, 0.1], xmin: [0.01, 0.03, 0.05, 0.07, 0.09], xfmt: nndFmt });
txt(297, 517, "Cav2.1");
txt(390, 713, "Mean NND (μm)", { anchor: "middle" });
txt(250, 589, "Cumulative probability", { anchor: "middle", rot: true });
cumLegend(390, [622, 635, 648, 662], 10);

// ---- J ----
const J = barPanel({ vals: jPct, yr: [678, 509], xr: [617, 673], ax: 610 });
groups.forEach((g, i) => txt(J.x(g) + J.x.bandwidth() / 2 + 5, J.y(jPct[i]) - 4, g, { rot: true, fill: i ? TE : OR }));
txt(621, 517, "Cav2.1");
txt(569, 593, "Active zones with clusters (%)", { anchor: "middle", rot: true });

// ---- K, L ----
function hPanel(p) {
  const x = d3.scaleLinear().domain([0, 150]).range(p.xr);
  const y = d3.scaleLinear().domain([-6, 6]).range([917, 749]);
  const id = "clip" + p.id;
  svg.append("clipPath").attr("id", id).append("rect").attr("x", p.xr[0]).attr("y", 749).attr("width", p.xr[1] - p.xr[0]).attr("height", 168);
  const g = svg.append("g").attr("clip-path", `url(#${id})`);
  g.append("path").attr("d", d3.area().x((d, i) => x(ceRadii[i])).y0((d, i) => y(p.ceLo[i])).y1(d => y(d))(p.ceHi)).attr("fill", "#D9D9D9");
  const line = d3.line().x((d, i) => x(radii[i])).y(d => y(d));
  g.selectAll(".s").data(p.single).join("path").attr("d", line).attr("fill", "none")
    .attr("stroke", p.light).attr("stroke-width", 0.7).attr("opacity", 0.85);
  g.append("path").attr("d", d3.area().x((d, i) => x(radii[i])).y0((d, i) => y(d - p.sem[i])).y1((d, i) => y(d + p.sem[i]))(p.mean))
    .attr("fill", p.band).attr("opacity", 0.8);
  g.append("path").attr("d", line(p.mean)).attr("fill", "none").attr("stroke", p.dark).attr("stroke-width", 2);
  g.append("path").attr("d", d3.line().x((d, i) => x(randRadii[i])).y(d => y(d))(p.rand)).attr("fill", "none").attr("stroke", "#000").attr("stroke-width", 1.5);
  yAxis(y, p.xr[0], [-6, -4, -2, 0, 2, 4, 6], [-5, -3, -1, 1, 3, 5]);
  xAxis(x, 917, [0, 50, 100, 150], [25, 75, 125]);
  const lx = p.xr[0] + 7;
  txt(lx, 751, "Population mean ± SEM", { size: 12, fill: p.dark });
  txt(lx, 769, "Single AZ", { size: 12, fill: p.lightText });
  txt(lx, 786, "Random mean", { size: 12 });
  txt(lx, 804, "99% CE", { size: 12, fill: "#AAAAAA" });
  txt((p.xr[0] + p.xr[1]) / 2, 962, "Radius (nm)", { anchor: "middle" });
  svg.append("text").attr("transform", `translate(${p.lab},833) rotate(-90)`).attr("text-anchor", "middle")
    .attr("font-family", FONT).attr("font-size", 15)
    .call(t => { t.append("tspan").text("H"); t.append("tspan").text("biv").attr("font-size", 10).attr("dy", 4); t.append("tspan").text("(r)").attr("dy", -4); });
}
hPanel({ id: "K", xr: [58, 228], single: kSingle, mean: kMean, sem: kSem, ceHi: kCeHi, ceLo: kCeLo, rand: kRand,
  light: "#F4B47A", lightText: "#F0A868", band: "#EE9A55", dark: "#E26F1E", lab: 22 });
hPanel({ id: "L", xr: [297, 467], single: lSingle, mean: lMean, sem: lSem, ceHi: lCeHi, ceLo: lCeLo, rand: lRand,
  light: "#9FDAD6", lightText: "#A6DEDA", band: "#7BCDC8", dark: "#4BB5AF", lab: 261 });

// ---- M ----
cumPanel({ xd: [0, 150], xr: [551, 718], yr: [918, 748],
  series: [{ d: mMuncKv, c: OR, dash: 1 }, { d: mMuncMg, c: TE, dash: 1 }, { d: mCavKv, c: OR }, { d: mCavMg, c: TE }],
  ymaj: [0, 0.2, 0.4, 0.6, 0.8, 1], ymin: [0.1, 0.3, 0.5, 0.7, 0.9], yfmt: d => d === 0 ? "0" : d === 1 ? "1" : d.toFixed(1),
  xmaj: [0, 50, 100, 150], xmin: [25, 75, 125] });
txt(635, 962, "Mean NND (nm)", { anchor: "middle" });
txt(509, 833, "Cumulative probability", { anchor: "middle", rot: true });
svg.append("line").attr("x1", 603).attr("x2", 623).attr("y1", 896).attr("y2", 896).attr("stroke", "#000").attr("stroke-width", 1.5);
svg.append("line").attr("x1", 603).attr("x2", 623).attr("y1", 909).attr("y2", 909).attr("stroke", "#000").attr("stroke-width", 1.5).attr("stroke-dasharray", "4,2.5");
svg.append("text").attr("x", 626).attr("y", 899).attr("font-family", FONT).attr("font-size", 8.5)
  .call(t => { t.append("tspan").text("Cav2.1 - Munc "); t.append("tspan").text("cluster").attr("font-size", 7).attr("dy", 2); });
svg.append("text").attr("x", 626).attr("y", 912).attr("font-family", FONT).attr("font-size", 8.5)
  .call(t => { t.append("tspan").text("Munc "); t.append("tspan").text("cluster").attr("font-size", 6).attr("dy", 2);
    t.append("tspan").text(" - Munc ").attr("dy", -2); t.append("tspan").text("cluster").attr("font-size", 6).attr("dy", 2); });

// ---- panel letters ----
[["A", 3, 15], ["B", 244, 15], ["C", 449, 15], ["D", 2, 252], ["E", 152, 252], ["F", 342, 252], ["G", 534, 252],
 ["H", 2, 488], ["I", 232, 488], ["J", 537, 488], ["K", 2, 740], ["L", 244, 742], ["M", 497, 740]]
  .forEach(l => txt(l[1], l[2], l[0], { bold: true, size: 15 }));
</script></body></html>
